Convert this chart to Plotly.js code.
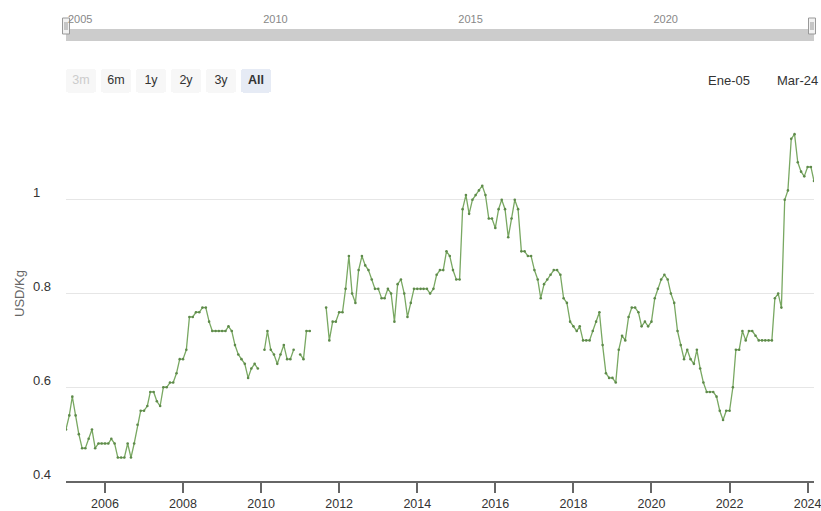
<!DOCTYPE html>
<html>
<head>
<meta charset="utf-8">
<script src="https://cdn.plot.ly/plotly-3.0.1.min.js"></script>
<style>
html,body{margin:0;padding:0;background:#ffffff;}
#chart{width:821px;height:511px;}
</style>
</head>
<body>
<div id="chart"></div>
<script>
// ---- data (monthly, USD/Kg), null = no data ----
const startYear = 2005;
const v2005 = [0.51, 0.54, 0.58, 0.54, 0.50, 0.47, 0.47, 0.49, 0.51, 0.47, 0.48, 0.48];
const v2006 = [0.48, 0.48, 0.49, 0.48, 0.45, 0.45, 0.45, 0.48, 0.45, 0.48, 0.52, 0.55];
const v2007 = [0.55, 0.56, 0.59, 0.59, 0.57, 0.56, 0.60, 0.60, 0.61, 0.61, 0.63, 0.66];
const v2008 = [0.66, 0.68, 0.75, 0.75, 0.76, 0.76, 0.77, 0.77, 0.74, 0.72, 0.72, 0.72];
const v2009 = [0.72, 0.72, 0.73, 0.72, 0.69, 0.67, 0.66, 0.65, 0.62, 0.64, 0.65, 0.64];
const v2010 = [null, 0.68, 0.72, 0.68, 0.67, 0.65, 0.67, 0.69, 0.66, 0.66, 0.68, null];
const v2011 = [0.67, 0.66, 0.72, 0.72, null, null, null, null, 0.77, 0.70, 0.74, 0.74];
const v2012 = [0.76, 0.76, 0.81, 0.88, 0.80, 0.78, 0.85, 0.88, 0.86, 0.85, 0.83, 0.81];
const v2013 = [0.81, 0.79, 0.79, 0.81, 0.80, 0.74, 0.82, 0.83, 0.80, 0.75, 0.78, 0.81];
const v2014 = [0.81, 0.81, 0.81, 0.81, 0.80, 0.81, 0.84, 0.85, 0.85, 0.89, 0.88, 0.85];
const v2015 = [0.83, 0.83, 0.98, 1.01, 0.97, 1.00, 1.01, 1.02, 1.03, 1.01, 0.96, 0.96];
const v2016 = [0.94, 0.98, 1.00, 0.98, 0.92, 0.96, 1.00, 0.98, 0.89, 0.89, 0.88, 0.88];
const v2017 = [0.85, 0.83, 0.79, 0.82, 0.83, 0.84, 0.85, 0.85, 0.84, 0.79, 0.78, 0.74];
const v2018 = [0.73, 0.72, 0.73, 0.70, 0.70, 0.70, 0.72, 0.74, 0.76, 0.69, 0.63, 0.62];
const v2019 = [0.62, 0.61, 0.68, 0.71, 0.70, 0.75, 0.77, 0.77, 0.76, 0.73, 0.74, 0.73];
const v2020 = [0.74, 0.79, 0.81, 0.83, 0.84, 0.83, 0.80, 0.78, 0.72, 0.69, 0.66, 0.68];
const v2021 = [0.66, 0.65, 0.68, 0.64, 0.61, 0.59, 0.59, 0.59, 0.58, 0.55, 0.53, 0.55];
const v2022 = [0.55, 0.60, 0.68, 0.68, 0.72, 0.70, 0.72, 0.72, 0.71, 0.70, 0.70, 0.70];
const v2023 = [0.70, 0.70, 0.79, 0.80, 0.77, 1.00, 1.02, 1.13, 1.14, 1.08, 1.06, 1.05];
const v2024 = [1.07, 1.07, 1.04];
const yearlyValues = [v2005, v2006, v2007, v2008, v2009, v2010, v2011, v2012, v2013, v2014,
                      v2015, v2016, v2017, v2018, v2019, v2020, v2021, v2022, v2023, v2024];

// ---- axis labels / texts ----
const yTickVals = [0.4, 0.6, 0.8, 1.0, 1.2];
const yTickText = ['0.4', '0.6', '0.8', '1\u2008\u2007', ''];
const xTickYears = ['2006', '2008', '2010', '2012', '2014', '2016', '2018', '2020', '2022', '2024'];
const navTickYears = ['2005', '2010', '2015', '2020'];
const yTitle = 'USD/Kg';
const dateFrom = 'Ene-05';
const dateTo = 'Mar-24';
const buttonLabels = ['3m', '6m', '1y', '2y', '3y', 'All'];

// ---- build series ----
const dates = [];
const values = [];
yearlyValues.forEach(function (arr, i) {
  arr.forEach(function (v, m) {
    dates.push((startYear + i) + '-' + String(m + 1).padStart(2, '0') + '-01');
    values.push(v);
  });
});
const xRange = [dates[0], dates[dates.length - 1]];

const FONT = 'Liberation Sans, Arial, Helvetica, sans-serif';
const W = 821, H = 511, ML = 66, MR = 7, MT = 10, MB = 30;
const PW = W - ML - MR, PH = H - MT - MB;
function px(x) { return (x - ML) / PW; }
function py(y) { return (H - MB - y) / PH; }

const main = {
  type: 'scatter',
  mode: 'lines+markers',
  x: dates,
  y: values,
  connectgaps: false,
  line: { color: '#79a862', width: 1.3 },
  marker: { size: 2.6, color: '#5e8a4a' },
  hoverinfo: 'x+y',
  xaxis: 'x',
  yaxis: 'y'
};
const nav = {
  type: 'scatter',
  mode: 'none',
  x: dates,
  y: values,
  xaxis: 'x2',
  yaxis: 'y2',
  hoverinfo: 'skip'
};

function span(t, style) { return '<span style="font-size:12.5px;' + (style || '') + '">' + t + '</span>'; }
const stepDefs = [
  { count: 3, step: 'month' }, { count: 6, step: 'month' }, { count: 1, step: 'year' },
  { count: 2, step: 'year' }, { count: 3, step: 'year' }, { step: 'all' }
];
const buttons = buttonLabels.map(function (lab, i) {
  let label = span(lab);
  if (i === 0) label = span(lab, 'fill:#cccccc;');
  if (stepDefs[i].step === 'all') label = '<b>' + span(lab) + '</b>';
  return Object.assign({ label: label, stepmode: 'backward' }, stepDefs[i]);
});

function handle(cx) {
  return [
    { type: 'rect', xref: 'paper', yref: 'paper', x0: px(cx - 3.5), x1: px(cx + 3.5), y0: py(34), y1: py(18),
      fillcolor: '#f2f2f2', line: { color: '#999999', width: 1 }, layer: 'below' },
    { type: 'line', xref: 'paper', yref: 'paper', x0: px(cx - 1), x1: px(cx - 1), y0: py(30), y1: py(22),
      line: { color: '#999999', width: 1 }, layer: 'below' },
    { type: 'line', xref: 'paper', yref: 'paper', x0: px(cx + 1), x1: px(cx + 1), y0: py(30), y1: py(22),
      line: { color: '#999999', width: 1 }, layer: 'below' }
  ];
}

const shapes = [
  { type: 'rect', xref: 'paper', yref: 'y2 domain', x0: 0, x1: 1, y0: 0, y1: 1,
    fillcolor: '#cccccc', line: { width: 0 }, layer: 'below' }
].concat(handle(66), handle(812));

const layout = {
  width: W, height: H,
  margin: { l: ML, r: MR, t: MT, b: MB, pad: 0 },
  paper_bgcolor: '#ffffff',
  plot_bgcolor: '#ffffff',
  font: { family: FONT, size: 13, color: '#333333' },
  showlegend: false,
  hovermode: 'x',
  xaxis: {
    type: 'date',
    anchor: 'y',
    autorange: true,
    autorangeoptions: { clipmin: xRange[0], clipmax: xRange[1] },
    tickvals: xTickYears.map(function (y) { return y + '-01-01'; }),
    ticktext: xTickYears,
    ticklabeloverflow: 'allow',
    showgrid: false,
    zeroline: false,
    showline: true,
    linecolor: '#666666',
    linewidth: 1.5,
    ticks: 'outside',
    ticklen: 10,
    tickwidth: 1.5,
    tickcolor: '#666666',
    tickfont: { family: FONT, size: 12.5, color: '#333333' },
    ticklabelstandoff: 0,
    rangeselector: {
      buttons: buttons,
      x: 0, xanchor: 'left',
      y: py(93), yanchor: 'bottom',
      bgcolor: '#f7f7f7',
      activecolor: '#e6ebf5',
      bordercolor: '#ffffff',
      borderwidth: 0,
      font: { family: FONT, size: 16, color: '#333333' }
    }
  },
  yaxis: {
    domain: [0, py(106)],
    anchor: 'x',
    range: [0.4, 1.2001],
    tickvals: yTickVals,
    ticktext: yTickText,
    showgrid: true,
    gridcolor: '#e6e6e6',
    gridwidth: 1,
    zeroline: false,
    showline: false,
    ticks: '',
    ticklabelstandoff: 14,
    ticklabelshift: -7,
    tickfont: { family: FONT, size: 13, color: '#333333' },
    title: { text: yTitle, standoff: 5, font: { family: FONT, size: 13, color: '#666666' } }
  },
  xaxis2: {
    type: 'date',
    anchor: 'y2',
    side: 'top',
    range: xRange,
    tickvals: navTickYears.map(function (y) { return y + '-01-01'; }),
    ticktext: navTickYears,
    ticklabelposition: 'outside right',
    ticklabelshift: 2,
    ticklabelstandoff: 3,
    ticks: '',
    showgrid: false,
    zeroline: false,
    showline: false,
    fixedrange: true,
    tickfont: { family: FONT, size: 11, color: '#888888' }
  },
  yaxis2: {
    domain: [py(41), py(29)],
    anchor: 'x2',
    range: [0, 1],
    visible: false,
    fixedrange: true
  },
  shapes: shapes,
  annotations: [
    { text: dateFrom, xref: 'paper', yref: 'paper', x: px(729), y: py(81), xanchor: 'center', yanchor: 'middle',
      showarrow: false, font: { family: FONT, size: 13, color: '#333333' } },
    { text: dateTo, xref: 'paper', yref: 'paper', x: px(797), y: py(81), xanchor: 'center', yanchor: 'middle',
      showarrow: false, font: { family: FONT, size: 13, color: '#333333' } }
  ]
};

Plotly.newPlot('chart', [main, nav], layout, { displayModeBar: false, responsive: false });
</script>
</body>
</html>
